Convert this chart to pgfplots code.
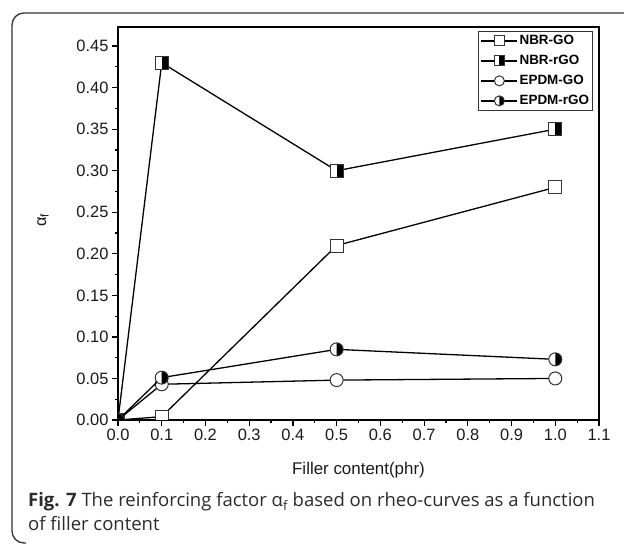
\documentclass[border=0pt]{standalone}
\usepackage{pgfplots}
\pgfplotsset{compat=1.18}
\usepackage{fontspec}
\setmainfont{Liberation Sans}
\newfontfamily\capfont{Open Sans}
\definecolor{txt}{HTML}{1A1A1A}
\definecolor{captxt}{HTML}{2B2B2B}
\definecolor{mk}{HTML}{333333}

\pgfdeclareplotmark{halfsquare}{%
  \pgfscope
  \pgfpathrectangle{\pgfpoint{-\pgfplotmarksize}{-\pgfplotmarksize}}{\pgfpoint{2\pgfplotmarksize}{2\pgfplotmarksize}}%
  \pgfsetfillcolor{white}\pgfusepath{fill}%
  \pgfpathrectangle{\pgfpoint{0pt}{-\pgfplotmarksize}}{\pgfpoint{\pgfplotmarksize}{2\pgfplotmarksize}}%
  \pgfsetfillcolor{black}\pgfusepath{fill}%
  \pgfpathrectangle{\pgfpoint{-\pgfplotmarksize}{-\pgfplotmarksize}}{\pgfpoint{2\pgfplotmarksize}{2\pgfplotmarksize}}%
  \pgfusepath{stroke}%
  \endpgfscope
}
\pgfdeclareplotmark{halfcircle}{%
  \pgfscope
  \pgfpathcircle{\pgfpointorigin}{\pgfplotmarksize}%
  \pgfsetfillcolor{white}\pgfusepath{fill}%
  \pgfpathmoveto{\pgfpoint{0pt}{\pgfplotmarksize}}%
  \pgfpatharc{90}{-90}{\pgfplotmarksize}%
  \pgfpathclose
  \pgfsetfillcolor{black}\pgfusepath{fill}%
  \pgfpathcircle{\pgfpointorigin}{\pgfplotmarksize}%
  \pgfusepath{stroke}%
  \endpgfscope
}
\newcommand\capline{\textbf{Fig. 7} The reinforcing factor α\textsubscript{f} based on rheo-curves as a function}
\newlength\capw

\begin{document}
\settowidth\capw{\capfont\fontsize{19}{19}\selectfont\capline}%
\pgfmathsetmacro\capsize{19*568.9/\capw}%
\begin{tikzpicture}[x=1bp,y=1bp]
\useasboundingbox (0,0) rectangle (624,544);
% frame
\draw[line width=1.3bp, color=mk, rounded corners=12bp] (624,531) -- (12,531) -- (12,1) -- (26,1);
\begin{axis}[
  at={(118bp,124bp)}, anchor=south west,
  scale only axis, width=481bp, height=393bp,
  xmin=0, xmax=1.1, ymin=0, ymax=0.473,
  xtick={0,0.1,...,1.1}, ytick={0,0.05,...,0.45},
  minor tick num=1,
  tick pos=left, tick align=outside,
  major tick length=6bp, minor tick length=3.5bp,
  every tick/.style={line width=1.2bp, color=black},
  axis line style={line width=1.4bp, color=black},
  ticklabel style={font=\fontsize{16.5}{16.5}\selectfont, color=txt},
  /pgf/number format/assume math mode=true,
  xticklabel style={/pgf/number format/.cd, fixed, fixed zerofill, precision=1},
  yticklabel style={/pgf/number format/.cd, fixed, fixed zerofill, precision=2},
  xlabel={Filler content(phr)},
  xlabel style={font=\fontsize{17}{17}\selectfont, color=txt, at={(axis description cs:0.5,0)}, anchor=center, yshift=-50bp},
  clip marker paths=true,
  legend cell align=left,
  legend style={at={(rel axis cs:0.9875,0.99)}, anchor=north east,
    draw=mk, line width=0.9bp, font=\bfseries\fontsize{13.5}{13.5}\selectfont,
    inner xsep=2bp, inner ysep=1.5bp, row sep=4bp,
    nodes={inner sep=1.5bp, text height=10bp, text depth=3bp}},
  legend image code/.code={\draw[mark repeat=2,mark phase=2,mark size=5bp] plot coordinates {(0bp,0bp)(18bp,0bp)(36bp,0bp)};},
  every axis plot/.append style={line width=1.3bp, color=black, mark size=6.5bp,
     mark options={draw=mk, line width=1bp, fill=white}},
]
\addplot[mark=square*] coordinates {(0,0) (0.1,0.004) (0.5,0.21) (1.0,0.28)};
\addlegendentry{NBR-GO}
\addplot[mark=halfsquare] coordinates {(0,0) (0.1,0.43) (0.5,0.30) (1.0,0.35)};
\addlegendentry{NBR-rGO}
\addplot[mark=*] coordinates {(0,0) (0.1,0.043) (0.5,0.048) (1.0,0.05)};
\addlegendentry{EPDM-GO}
\addplot[mark=halfcircle] coordinates {(0,0) (0.1,0.051) (0.5,0.085) (1.0,0.073)};
\addlegendentry{EPDM-rGO}
\end{axis}
\node[rotate=90, font=\fontsize{16.5}{16.5}\selectfont, color=txt] at (43,324) {α\textsubscript{f}};
\node[anchor=base west, font=\capfont\fontsize{\capsize}{\capsize}\selectfont, color=captxt, inner sep=0] at (28,37) {\capline};
\node[anchor=base west, font=\capfont\fontsize{\capsize}{\capsize}\selectfont, color=captxt, inner sep=0] at (28,13) {of filler content};
\end{tikzpicture}
\end{document}
